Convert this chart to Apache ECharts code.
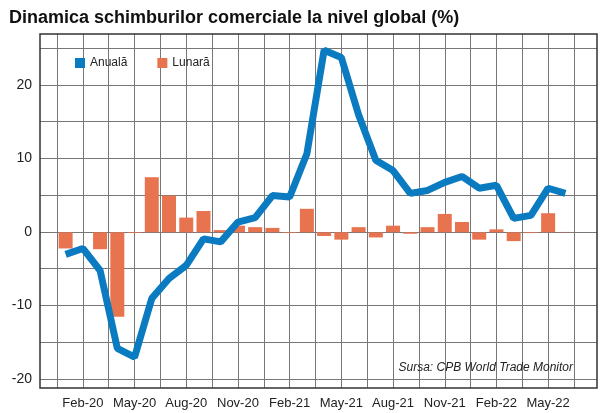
<!DOCTYPE html>
<html><head><meta charset="utf-8">
<script src="https://cdn.jsdelivr.net/npm/echarts@6/dist/echarts.min.js"></script>
<style>html,body{margin:0;padding:0;background:#fff}#c{width:600px;height:413px}</style>
</head><body><div id="c"></div>
<script>
const months = ['Jan-20','Feb-20','Mar-20','Apr-20','May-20','Jun-20','Jul-20','Aug-20','Sep-20','Oct-20','Nov-20','Dec-20',
'Jan-21','Feb-21','Mar-21','Apr-21','May-21','Jun-21','Jul-21','Aug-21','Sep-21','Oct-21','Nov-21','Dec-21',
'Jan-22','Feb-22','Mar-22','Apr-22','May-22','Jun-22'];
const anuala = [-3,-2.2,-5.2,-15.8,-17,-9,-6.3,-4.5,-0.9,-1.3,1.4,2,5,4.8,10.7,24.8,23.8,16,9.8,8.4,5.3,5.7,6.8,7.6,6,6.4,1.9,2.3,6,5.3];
const lunara = [-2.2,0,-2.3,-11.5,-0.1,7.5,5,2,2.9,0.3,0.9,0.7,0.6,-0.1,3.2,-0.5,-1,0.7,-0.7,0.9,-0.2,0.7,2.5,1.4,-1,0.4,-1.2,-0.1,2.6,0.05];
const yTicks = [-20,-10,0,10,20];
const font = '"Liberation Sans",sans-serif';
const chart = echarts.init(document.getElementById('c'));
chart.setOption({
  animation:false,
  title:[{text:'Dinamica schimburilor comerciale la nivel global (%)',left:4,top:4,textStyle:{fontFamily:font,fontWeight:'bold',fontSize:18,color:'#111'}},
         {text:'Sursa: CPB World Trade Monitor',right:22,bottom:34,textStyle:{fontFamily:font,fontStyle:'italic',fontWeight:'normal',fontSize:12,color:'#222'}}],
  legend:{left:70,top:52,itemWidth:10,itemHeight:10,itemGap:30,icon:'rect',textStyle:{fontFamily:font,fontSize:12,color:'#222'},data:['Anuală','Lunară']},
  grid:[
    {left:40,right:3,top:34,bottom:25,show:true,borderColor:'#333',borderWidth:1.5,z:5},
    {left:57,right:26,top:34,bottom:25},
    {left:40,right:3,top:48,bottom:34}
  ],
  xAxis:[
    {gridIndex:0,type:'value',min:0,max:1,show:false},
    {gridIndex:1,type:'value',min:-0.5,max:29.5,interval:1.5,
     axisLine:{show:false},axisTick:{show:false},
     splitLine:{show:true,lineStyle:{color:'#777',width:1}},
     axisLabel:{margin:9,fontFamily:font,fontSize:13,color:'#222',
       formatter:v=>{const i=Math.round(v);return (Math.abs(v-i)<1e-6 && (i-1)%3===0)?months[i]:'';}}},
    {gridIndex:2,type:'value',min:0,max:1,show:false}
  ],
  yAxis:[
    {gridIndex:0,type:'value',min:0,max:1,show:false},
    {gridIndex:1,type:'value',min:-21.2,max:27,show:false,splitLine:{show:false}},
    {gridIndex:2,type:'value',min:-20,max:25,interval:5,
     axisLine:{show:false},axisTick:{show:false},
     splitLine:{show:true,lineStyle:{color:'#777',width:1}},
     axisLabel:{margin:8,fontFamily:font,fontSize:14,color:'#222',
       formatter:v=>yTicks.includes(v)?String(v):''}}
  ],
  series:[
    {name:'Lunară',type:'bar',xAxisIndex:1,yAxisIndex:1,barWidth:14,itemStyle:{color:'#e8734f'},
     data:lunara.map((v,i)=>[i,v]),z:2},
    {name:'Anuală',type:'line',xAxisIndex:1,yAxisIndex:1,showSymbol:false,symbol:'none',
     lineStyle:{color:'#0a7bc1',width:7},itemStyle:{color:'#0a7bc1'},
     data:anuala.map((v,i)=>[i,v]),z:3}
  ]
});
</script></body></html>
